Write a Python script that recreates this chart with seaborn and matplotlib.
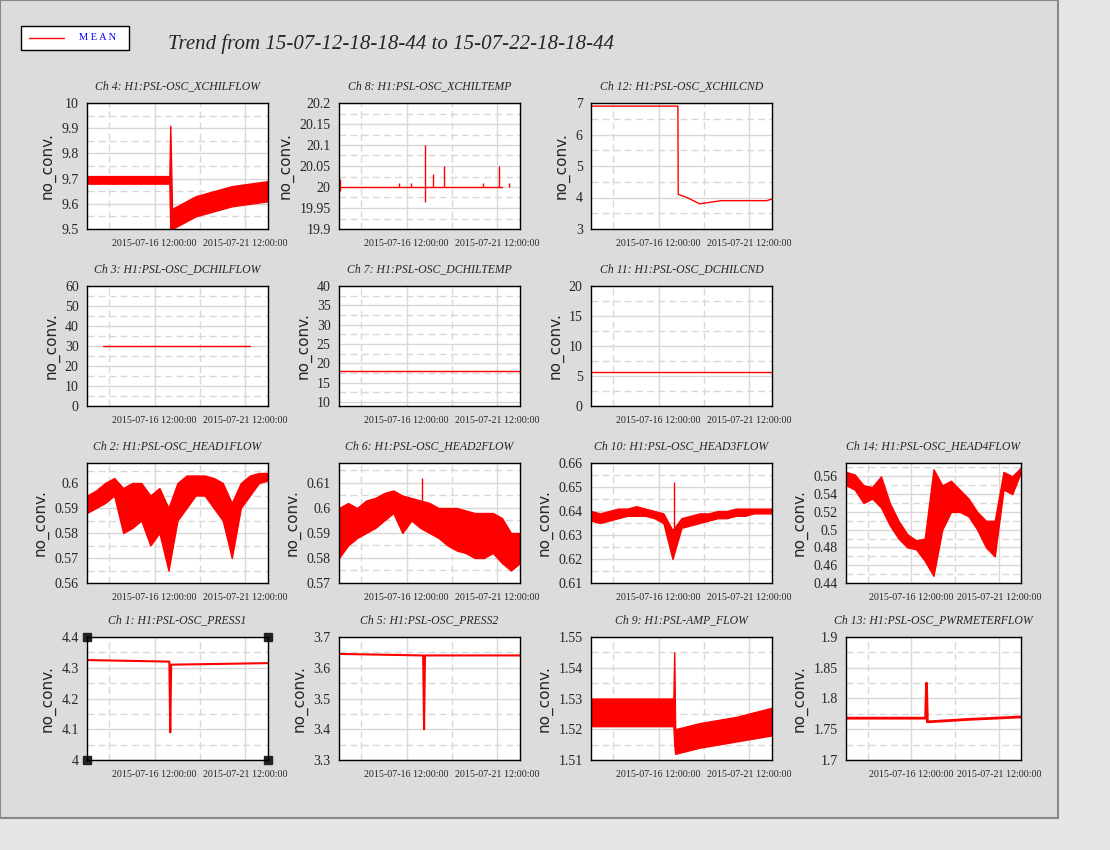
import matplotlib
matplotlib.use("Agg")
import matplotlib.pyplot as plt
from matplotlib.patches import Rectangle
from matplotlib.lines import Line2D
import numpy as np
import seaborn as sns

sns.set_style("white")
plt.rcParams['font.family'] = ['Liberation Serif', 'DejaVu Serif']

# time in days since 2015-07-12 18:18:44
tick_days = [3.736, 8.736]
tick_labels = ["2015-07-16 12:00:00", "2015-07-21 12:00:00"]
t21 = [0, 0.5, 1, 1.5, 2, 2.5, 3, 3.5, 4, 4.5, 5, 5.5, 6, 6.5, 7, 7.5, 8, 8.5, 9, 9.5, 10]

# band channels: (t, lo, hi)
xchilflow_t = [0, 2, 4.55, 4.6, 4.7, 6, 8, 10]
xchilflow_lo = [9.68, 9.68, 9.68, 9.50, 9.50, 9.55, 9.59, 9.61]
xchilflow_hi = [9.71, 9.71, 9.71, 9.91, 9.58, 9.63, 9.67, 9.69]

xchiltemp_t = [0.1, 9.0]
xchiltemp_v = [20.0, 20.0]
xchiltemp_spk_t = [0.05, 3.3, 4.0, 4.75, 5.2, 5.8, 7.95, 8.84, 9.4]
xchiltemp_spk_lo = [19.99, 20.0, 20.0, 19.965, 20.0, 20.0, 20.0, 20.0, 20.0]
xchiltemp_spk_hi = [20.02, 20.01, 20.01, 20.10, 20.03, 20.05, 20.01, 20.05, 20.01]

xchilcnd_t = [0, 4.8, 4.82, 5.3, 6.0, 7.2, 9.7, 10]
xchilcnd_v = [6.9, 6.9, 4.1, 4.0, 3.8, 3.9, 3.9, 3.95]

dchilflow_t = [0.9, 9.0]
dchilflow_v = [30, 30]
dchiltemp_t = [0, 10]
dchiltemp_v = [18, 18]
dchilcnd_t = [0, 10]
dchilcnd_v = [5.6, 5.6]

head1_lo = [.588, .590, .592, .595, .580, .582, .585, .575, .580, .565, .585, .590, .595, .595, .590, .585, .570, .590, .595, .600, .601]
head1_hi = [.595, .597, .600, .602, .598, .600, .600, .595, .598, .590, .600, .603, .603, .603, .602, .600, .592, .600, .603, .604, .604]
head2_lo = [.580, .585, .588, .590, .592, .595, .598, .590, .595, .592, .590, .588, .585, .583, .582, .580, .580, .582, .578, .575, .578]
head2_hi = [.600, .602, .600, .603, .604, .606, .607, .605, .604, .603, .602, .600, .600, .600, .599, .598, .598, .598, .596, .590, .590]
head3_lo = [.636, .635, .636, .637, .638, .638, .638, .637, .635, .620, .633, .634, .635, .636, .637, .637, .638, .638, .639, .639, .639]
head3_hi = [.640, .639, .640, .641, .641, .642, .641, .640, .639, .632, .637, .638, .639, .639, .640, .640, .641, .641, .641, .641, .641]
head4_lo = [.550, .545, .530, .535, .525, .505, .490, .480, .478, .465, .448, .500, .520, .520, .515, .500, .480, .470, .545, .540, .565]
head4_hi = [.565, .562, .550, .548, .560, .530, .510, .495, .488, .490, .568, .550, .555, .545, .535, .520, .510, .510, .565, .560, .570]

press1_t = [0, 4.55, 4.6, 4.65, 10]
press1_v = [4.325, 4.32, 4.09, 4.31, 4.315]
press2_t = [0, 4.65, 4.7, 4.75, 10]
press2_v = [3.645, 3.64, 3.40, 3.64, 3.64]
ampflow_t = [0, 4.55, 4.6, 4.65, 6, 8, 10]
ampflow_lo = [1.521, 1.521, 1.515, 1.512, 1.514, 1.516, 1.518]
ampflow_hi = [1.530, 1.530, 1.545, 1.520, 1.522, 1.524, 1.527]
pwr_t = [0, 4.55, 4.6, 4.65, 7, 10]
pwr_v = [1.768, 1.768, 1.825, 1.762, 1.766, 1.770]

fig = plt.figure(figsize=(11.1, 8.5), dpi=100)
fig.patch.set_facecolor("#e6e6e6")
fig.patches.append(Rectangle((0, 32 / 850), 1058 / 1110, 818 / 850, transform=fig.transFigure,
                             facecolor="#dcdcdc", edgecolor="#888888", lw=1.5, zorder=-10))

def make_ax(x0, y_top, y_bot, w, title, ylim, yticks, yminor):
    ax = fig.add_axes([x0 / 1110, 1 - y_bot / 850, w / 1110, (y_bot - y_top) / 850])
    ax.set_facecolor("white")
    ax.set_xlim(0, 10)
    ax.set_ylim(*ylim)
    ax.set_xticks(tick_days)
    ax.set_xticklabels(tick_labels, fontsize=7.2)
    ax.set_xticks([1.236, 6.236], minor=True)
    ax.set_yticks(yticks)
    ax.set_yticklabels([("%g" % v) for v in yticks], fontsize=10)
    ax.set_yticks(yminor, minor=True)
    ax.grid(which="major", color="#d8d8d8", lw=1, ls="-")
    ax.grid(which="minor", color="#d8d8d8", lw=1, ls=(0, (5, 3)))
    ax.tick_params(which="both", length=0)
    ax.tick_params(axis="x", pad=7)
    ax.tick_params(axis="y", pad=6)
    for s in ax.spines.values():
        s.set_color("black")
        s.set_linewidth(1)
    ax.set_title(title, fontsize=8.5, style="italic", pad=10)
    ax.set_ylabel("no_conv.", fontsize=11, family="DejaVu Sans")
    return ax

def mids(ticks):
    return [(a + b) / 2 for a, b in zip(ticks[:-1], ticks[1:])]

cols = [87, 339, 591, 846]
widths = [181, 181, 181, 175]
rows = [(103, 229), (286, 406), (463, 583), (637, 760)]

def band(ax, t, lo, hi):
    ax.fill_between(t, lo, hi, color="red", lw=1, edgecolor="red")

# row 1
yt = [9.5, 9.6, 9.7, 9.8, 9.9, 10]
ax = make_ax(cols[0], *rows[0], widths[0], "Ch 4: H1:PSL-OSC_XCHILFLOW", (9.5, 10), yt, mids(yt))
band(ax, xchilflow_t, xchilflow_lo, xchilflow_hi)
yt = [19.9, 19.95, 20, 20.05, 20.1, 20.15, 20.2]
ax = make_ax(cols[1], *rows[0], widths[1], "Ch 8: H1:PSL-OSC_XCHILTEMP", (19.9, 20.2), yt, mids(yt))
ax.plot(xchiltemp_t, xchiltemp_v, color="red", lw=1)
ax.vlines(xchiltemp_spk_t, xchiltemp_spk_lo, xchiltemp_spk_hi, color="red", lw=1)
yt = [3, 4, 5, 6, 7]
ax = make_ax(cols[2], *rows[0], widths[2], "Ch 12: H1:PSL-OSC_XCHILCND", (3, 7), yt, mids(yt))
ax.plot(xchilcnd_t, xchilcnd_v, color="red", lw=1)

# row 2
yt = [0, 10, 20, 30, 40, 50, 60]
ax = make_ax(cols[0], *rows[1], widths[0], "Ch 3: H1:PSL-OSC_DCHILFLOW", (0, 60), yt, mids(yt))
ax.plot(dchilflow_t, dchilflow_v, color="red", lw=1)
yt = [10, 15, 20, 25, 30, 35, 40]
ax = make_ax(cols[1], *rows[1], widths[1], "Ch 7: H1:PSL-OSC_DCHILTEMP", (9, 40), yt, mids(yt))
ax.plot(dchiltemp_t, dchiltemp_v, color="red", lw=1)
yt = [0, 5, 10, 15, 20]
ax = make_ax(cols[2], *rows[1], widths[2], "Ch 11: H1:PSL-OSC_DCHILCND", (0, 20), yt, mids(yt))
ax.plot(dchilcnd_t, dchilcnd_v, color="red", lw=1)

# row 3
yt = [0.56, 0.57, 0.58, 0.59, 0.6]
ax = make_ax(cols[0], *rows[2], widths[0], "Ch 2: H1:PSL-OSC_HEAD1FLOW", (0.56, 0.608), yt, mids(yt) + [0.605])
band(ax, t21, head1_lo, head1_hi)
yt = [0.57, 0.58, 0.59, 0.6, 0.61]
ax = make_ax(cols[1], *rows[2], widths[1], "Ch 6: H1:PSL-OSC_HEAD2FLOW", (0.57, 0.618), yt, mids(yt) + [0.615])
band(ax, t21, head2_lo, head2_hi)
ax.vlines([4.6], [0.598], [0.612], color="red", lw=1)
yt = [0.61, 0.62, 0.63, 0.64, 0.65, 0.66]
ax = make_ax(cols[2], *rows[2], widths[2], "Ch 10: H1:PSL-OSC_HEAD3FLOW", (0.61, 0.66), yt, mids(yt))
band(ax, t21, head3_lo, head3_hi)
ax.vlines([4.6], [0.625], [0.652], color="red", lw=1)
yt = [0.44, 0.46, 0.48, 0.5, 0.52, 0.54, 0.56]
ax = make_ax(cols[3], *rows[2], widths[3], "Ch 14: H1:PSL-OSC_HEAD4FLOW", (0.44, 0.575), yt, mids(yt) + [0.57])
band(ax, t21, head4_lo, head4_hi)

# row 4
yt = [4, 4.1, 4.2, 4.3, 4.4]
ax = make_ax(cols[0], *rows[3], widths[0], "Ch 1: H1:PSL-OSC_PRESS1", (4, 4.4), yt, mids(yt))
ax.plot(press1_t, press1_v, color="red", lw=1.5)
ax.plot([0, 0, 1, 1], [0, 1, 0, 1], ls="none", marker="s", ms=6, color="#222222",
        transform=ax.transAxes, clip_on=False)
yt = [3.3, 3.4, 3.5, 3.6, 3.7]
ax = make_ax(cols[1], *rows[3], widths[1], "Ch 5: H1:PSL-OSC_PRESS2", (3.3, 3.7), yt, mids(yt))
ax.plot(press2_t, press2_v, color="red", lw=1.5)
yt = [1.51, 1.52, 1.53, 1.54, 1.55]
ax = make_ax(cols[2], *rows[3], widths[2], "Ch 9: H1:PSL-AMP_FLOW", (1.51, 1.55), yt, mids(yt))
band(ax, ampflow_t, ampflow_lo, ampflow_hi)
yt = [1.7, 1.75, 1.8, 1.85, 1.9]
ax = make_ax(cols[3], *rows[3], widths[3], "Ch 13: H1:PSL-OSC_PWRMETERFLOW", (1.7, 1.9), yt, mids(yt))
ax.plot(pwr_t, pwr_v, color="red", lw=2)

fig.text(391 / 1110, 1 - 44 / 850, "Trend from 15-07-12-18-18-44 to 15-07-22-18-18-44",
         fontsize=15, style="italic", ha="center", va="center")

# legend box
fig.patches.append(Rectangle((21 / 1110, 1 - 50 / 850), 108 / 1110, 24 / 850, transform=fig.transFigure,
                             facecolor="white", edgecolor="black", lw=1))
fig.lines.append(Line2D([29 / 1110, 64 / 1110], [1 - 38 / 850] * 2, color="red", lw=1, transform=fig.transFigure))
fig.text(79 / 1110, 1 - 38 / 850, "M E A N", fontsize=7.5, color="blue", va="center")

fig.savefig("out.png", dpi=100)
